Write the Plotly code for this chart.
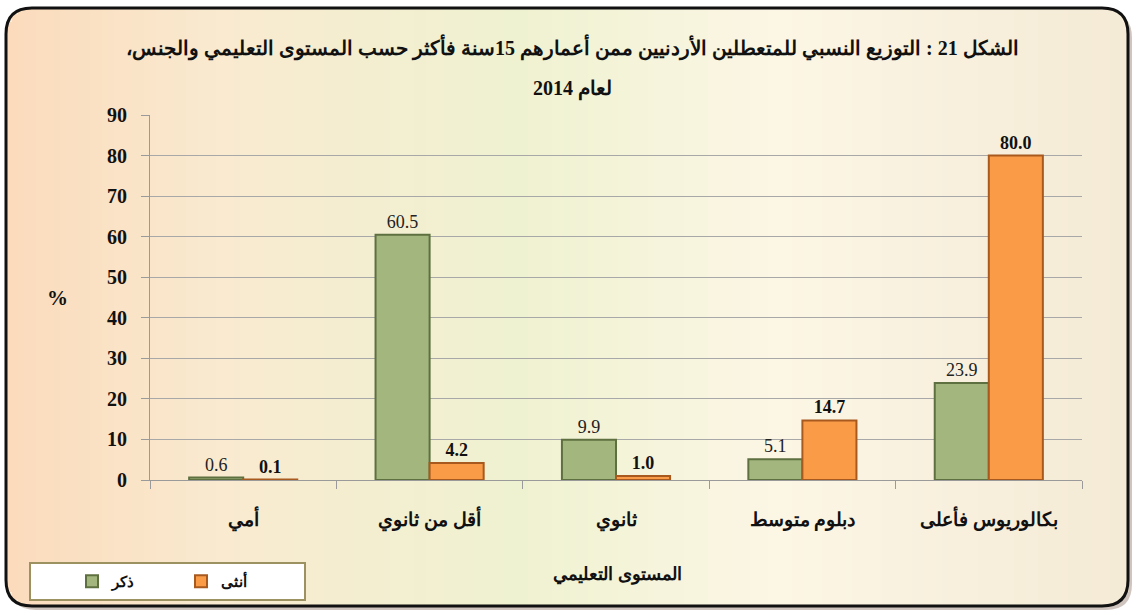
import math
import plotly.graph_objects as go

categories = ["أمي", "أقل من ثانوي", "ثانوي", "دبلوم متوسط", "بكالوريوس فأعلى"]
male = [0.6, 60.5, 9.9, 5.1, 23.9]
female = [0.1, 4.2, 1.0, 14.7, 80.0]
male_name = "ذكر"
female_name = "أنثى"
y_ticks = [0, 10, 20, 30, 40, 50, 60, 70, 80, 90]
title_line1 = "الشكل 21 : التوزيع النسبي للمتعطلين الأردنيين ممن أعمارهم 15سنة فأكثر حسب المستوى التعليمي والجنس،"
title_line2 = "لعام 2014"
x_title = "المستوى التعليمي"
y_title = "%"

W, H = 1135, 613
L, R, T, B = 150, 1082, 115, 480

def px(x):
    return (x - L) / (R - L)

def py(y):
    return (B - y) / (B - T)

SERIF = "Liberation Serif, Times New Roman, DejaVu Serif, serif"
RLM = "\u200f"

fig = go.Figure()
fig.add_trace(go.Bar(
    x=categories, y=male, name=male_name,
    marker=dict(color="#A3B67D", line=dict(color="#5E7040", width=2)),
    text=[f"{v:.1f}" for v in male], textposition="outside",
    textfont=dict(family=SERIF, size=18, color="#222222"),
    cliponaxis=False,
))
fig.add_trace(go.Bar(
    x=categories, y=female, name=female_name,
    marker=dict(color="#FA9B48", line=dict(color="#A85A1E", width=2)),
    text=[f"{v:.1f}" for v in female], textposition="outside",
    textfont=dict(family=SERIF, size=18, color="#111111", weight="bold"),
    cliponaxis=False,
))

# rounded frame
x0, y0, x1, y1, r = 6, 8, 1128, 606, 26

def frame_path(x0, y0, x1, y1, r):
    return (f"M {px(x0+r)} {py(y0)} L {px(x1-r)} {py(y0)} "
            f"Q {px(x1)} {py(y0)} {px(x1)} {py(y0+r)} "
            f"L {px(x1)} {py(y1-r)} Q {px(x1)} {py(y1)} {px(x1-r)} {py(y1)} "
            f"L {px(x0+r)} {py(y1)} Q {px(x0)} {py(y1)} {px(x0)} {py(y1-r)} "
            f"L {px(x0)} {py(y0+r)} Q {px(x0)} {py(y0)} {px(x0+r)} {py(y0)} Z")

def hex2rgb(h):
    h = h.lstrip("#")
    return tuple(int(h[i:i+2], 16) for i in (0, 2, 4))

stops = [(0, "#FBDABB"), (220, "#F9EAD0"), (520, "#EFF2D1"), (780, "#FCF6E5"), (1135, "#F4EAD5")]

def color_at(x):
    for (xa, ca), (xb, cb) in zip(stops[:-1], stops[1:]):
        if xa <= x <= xb:
            t = (x - xa) / (xb - xa)
            a, b = hex2rgb(ca), hex2rgb(cb)
            c = tuple(round(a[i] + (b[i] - a[i]) * t) for i in range(3))
            return "rgb(%d,%d,%d)" % c
    return stops[-1][1]

shapes = []
shapes.append(dict(type="path", xref="paper", yref="paper",
                   path=frame_path(x0+4, y0+4, x1+4, y1+4, r),
                   fillcolor="rgba(120,90,70,0.35)", line=dict(width=0), layer="below"))
shapes.append(dict(type="path", xref="paper", yref="paper",
                   path=frame_path(x0, y0, x1, y1, r),
                   fillcolor="#F9F1DE", line=dict(width=0), layer="below"))
step = 6
xs = x0
while xs < x1:
    xe = min(xs + step, x1)
    xm = (xs + xe) / 2
    dy = 0
    if xm < x0 + r:
        d = x0 + r - xm
        dy = r - math.sqrt(max(r * r - d * d, 0))
    elif xm > x1 - r:
        d = xm - (x1 - r)
        dy = r - math.sqrt(max(r * r - d * d, 0))
    shapes.append(dict(type="rect", xref="paper", yref="paper",
                       x0=px(xs), x1=px(xe) + 0.0005, y0=py(y1 - dy), y1=py(y0 + dy),
                       fillcolor=color_at(xm), line=dict(width=0), layer="below"))
    xs = xe
shapes.append(dict(type="path", xref="paper", yref="paper",
                   path=frame_path(x0, y0, x1, y1, r),
                   fillcolor="rgba(0,0,0,0)", line=dict(color="#111111", width=3), layer="below"))
# legend box
shapes.append(dict(type="rect", xref="paper", yref="paper",
                   x0=px(30), x1=px(305), y0=py(600), y1=py(563),
                   fillcolor="#FFFFFF", line=dict(color="#9C9160", width=2), layer="below"))

annotations = [
    dict(text=title_line1 + RLM, xref="paper", yref="paper", x=px(572), y=py(32),
         showarrow=False, font=dict(family=SERIF, size=20, color="#111111", weight="bold")),
    dict(text=title_line2 + RLM, xref="paper", yref="paper", x=px(572), y=py(75),
         showarrow=False, font=dict(family=SERIF, size=20, color="#111111", weight="bold")),
    dict(text=y_title, xref="paper", yref="paper", x=px(45), y=py(298), showarrow=False,
         font=dict(family=SERIF, size=21, color="#111111", weight="bold")),
    dict(text=x_title, xref="paper", yref="paper", x=px(617), y=py(587), showarrow=False,
         font=dict(family=SERIF, size=18, color="#111111", weight="bold")),
]

fig.update_layout(
    width=W, height=H,
    margin=dict(l=L, r=W - R, t=T, b=H - B),
    paper_bgcolor="#FFFFFF",
    plot_bgcolor="rgba(0,0,0,0)",
    barmode="group", bargap=0.42, bargroupgap=0.0,
    shapes=shapes,
    annotations=annotations,
    showlegend=True,
    legend=dict(orientation="h", x=px(72), y=py(581.5), xanchor="left", yanchor="middle",
                bgcolor="rgba(0,0,0,0)", borderwidth=0,
                font=dict(family=SERIF, size=15, color="#111111", weight="bold"),
                entrywidth=64, entrywidthmode="pixels", traceorder="normal"),
    font=dict(family=SERIF),
)
fig.update_xaxes(
    type="category", showline=True, linecolor="#9A9A9A", linewidth=1,
    ticks="outside", tickson="boundaries", ticklen=8, tickcolor="#9A9A9A",
    tickfont=dict(family=SERIF, size=19, color="#111111", weight="bold"),
    ticklabelstandoff=22,
    showgrid=False,
)
fig.update_yaxes(
    range=[0, 90], tickvals=y_ticks, showline=True, linecolor="#9A9A9A", linewidth=1,
    ticks="outside", ticklen=8, tickcolor="#9A9A9A",
    showgrid=True, gridcolor="#A8A8A8", gridwidth=1,
    tickfont=dict(family=SERIF, size=20, color="#111111", weight="bold"),
    ticklabelstandoff=10, zeroline=False,
)

fig.write_html("out.html")
